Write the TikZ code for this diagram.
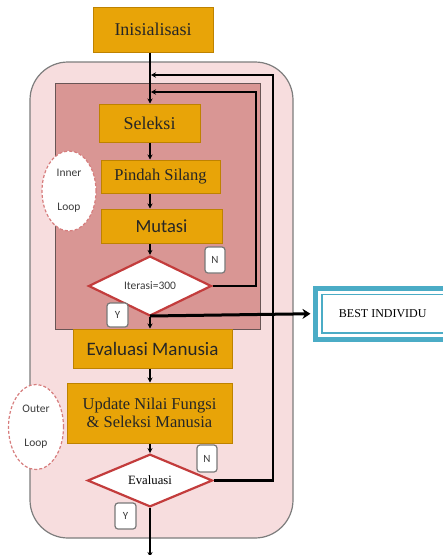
\documentclass[tikz,border=0pt]{standalone}
\usepackage{fontspec}
\setmainfont{Liberation Serif}
\newfontfamily\sansf{Carlito}
\usetikzlibrary{shapes.geometric,arrows.meta}
\definecolor{boxor}{RGB}{232,164,8}
\definecolor{boxorb}{RGB}{190,130,0}
\definecolor{outpink}{RGB}{247,221,222}
\definecolor{outgrey}{RGB}{125,125,125}
\definecolor{inpink}{RGB}{217,150,148}
\definecolor{inborder}{RGB}{105,85,85}
\definecolor{diared}{RGB}{195,60,60}
\definecolor{elldash}{RGB}{215,125,125}
\definecolor{tealb}{RGB}{75,172,198}
\definecolor{tagb}{RGB}{120,120,120}
\definecolor{txtg}{RGB}{60,60,60}
\tikzset{
  obox/.style={draw=boxorb, fill=boxor, line width=1pt, inner sep=0pt, align=center, text=black!85},
  dia/.style={diamond, draw=diared, fill=white, line width=2.2pt, inner sep=0pt},
  tagbox/.style={draw=tagb, fill=white, rounded corners=3pt, line width=1.2pt, inner sep=0pt, text=txtg, font=\sansf\fontsize{11}{12}\selectfont},
  loopell/.style={ellipse, draw=elldash, fill=white, dash pattern=on 3pt off 2pt, line width=1.2pt, inner sep=0pt, align=center, text=txtg, font=\sansf\fontsize{11.5}{34}\selectfont},
  mainln/.style={draw=black, line width=1.8pt, -{Stealth[length=5pt,width=5pt]}},
  loopln/.style={draw=black, line width=2.4pt, -{Stealth[length=5pt,width=5.5pt]}},
  bestln/.style={draw=black, line width=3pt, -{Stealth[length=8pt,width=10pt]}},
  bestbox/.style={draw=tealb, fill=white, line width=5pt, inner sep=0pt, outer sep=0pt, font=\fontsize{12}{14}\selectfont}
}
\begin{document}
\begin{tikzpicture}[x=1pt,y=-1pt]
\useasboundingbox (0,0) rectangle (443,555);
\fill[white] (0,0) rectangle (443,555);
% backgrounds
\draw[fill=outpink, draw=outgrey, line width=1.2pt, rounded corners=38pt] (30,62) rectangle (293,538);
\draw[fill=inpink, draw=inborder, line width=1pt] (55,83) rectangle (260,329);
% loop labels
\node[loopell, minimum width=54, minimum height=80] (inl) at (69,191) {Inner\\Loop};
\node[loopell, minimum width=55, minimum height=85] (outl) at (36,427) {Outer\\Loop};
% column
\coordinate (col) at (150,0);
% nodes
\node[obox, minimum width=120, minimum height=45, font=\fontsize{18}{20}\selectfont] (init) at (153,29.5) {Inisialisasi};
\node[obox, minimum width=101, minimum height=38, font=\fontsize{18}{20}\selectfont] (sel) at (149.5,123) {Seleksi};
\node[obox, minimum width=119, minimum height=33, font=\fontsize{16.5}{18}\selectfont] (pin) at (160.5,176.5) {Pindah Silang};
\node[obox, minimum width=121, minimum height=34, font=\sansf\fontsize{18.5}{20}\selectfont] (mut) at (161.5,226) {Mutasi};
\node[dia, minimum width=123, minimum height=46, text=txtg, font=\sansf\fontsize{11.5}{14}\selectfont] (iter) at (150,286) {Iterasi=300};
\node[obox, minimum width=159, minimum height=39, font=\sansf\fontsize{19}{21}\selectfont] (evm) at (152.5,348.5) {Evaluasi Manusia};
\node[obox, minimum width=165, minimum height=60, font=\fontsize{16.5}{18}\selectfont] (upd) at (149.5,413) {Update Nilai Fungsi\\\& Seleksi Manusia};
\node[dia, minimum width=125, minimum height=45, font=\fontsize{12.7}{14}\selectfont] (eval) at (150,480.5) {Evaluasi};
% tags
\node[tagbox, minimum width=20, minimum height=26] (n1) at (215,260) {N};
\node[tagbox, minimum width=21, minimum height=24] (y1) at (117.5,315) {Y};
\node[tagbox, minimum width=20, minimum height=27] (n2) at (207,458.5) {N};
\node[tagbox, minimum width=21, minimum height=26] (y2) at (125.5,516) {Y};
% best individu
\node[bestbox, minimum width=134.5, minimum height=51.5] (best) at (382.75,313.75) {BEST INDIVIDU};
\draw[tealb, line width=1.4pt] ([shift={(6.5,6.5)}]best.north west) rectangle ([shift={(-6.5,-6.5)}]best.south east);
% junction coordinates
\coordinate (j1) at (151,75);
\coordinate (j2) at (151,92);
\coordinate (oc) at (273,75);
\coordinate (ic) at (256,92);
\coordinate (j3) at (150,316);
\coordinate (endp) at (150,557);
% connectors
\draw[mainln] (init.south -| col) -- (sel.north -| col);
\draw[mainln] (sel.south -| col) -- (pin.north -| col);
\draw[mainln] (pin.south -| col) -- (mut.north -| col);
\draw[mainln] (mut.south -| col) -- (iter.north);
\draw[mainln] (iter.south) -- (evm.north -| col);
\draw[mainln] (evm.south -| col) -- (upd.north -| col);
\draw[mainln] (upd.south -| col) -- (eval.north);
\draw[mainln] (eval.south) -- (endp);
\draw[loopln] (iter.east) -| (ic) -- (j2);
\draw[loopln] (eval.east) -| (oc) -- (j1);
\draw[bestln] (j3) -- ([xshift=-5pt]best.west);
\end{tikzpicture}
\end{document}
